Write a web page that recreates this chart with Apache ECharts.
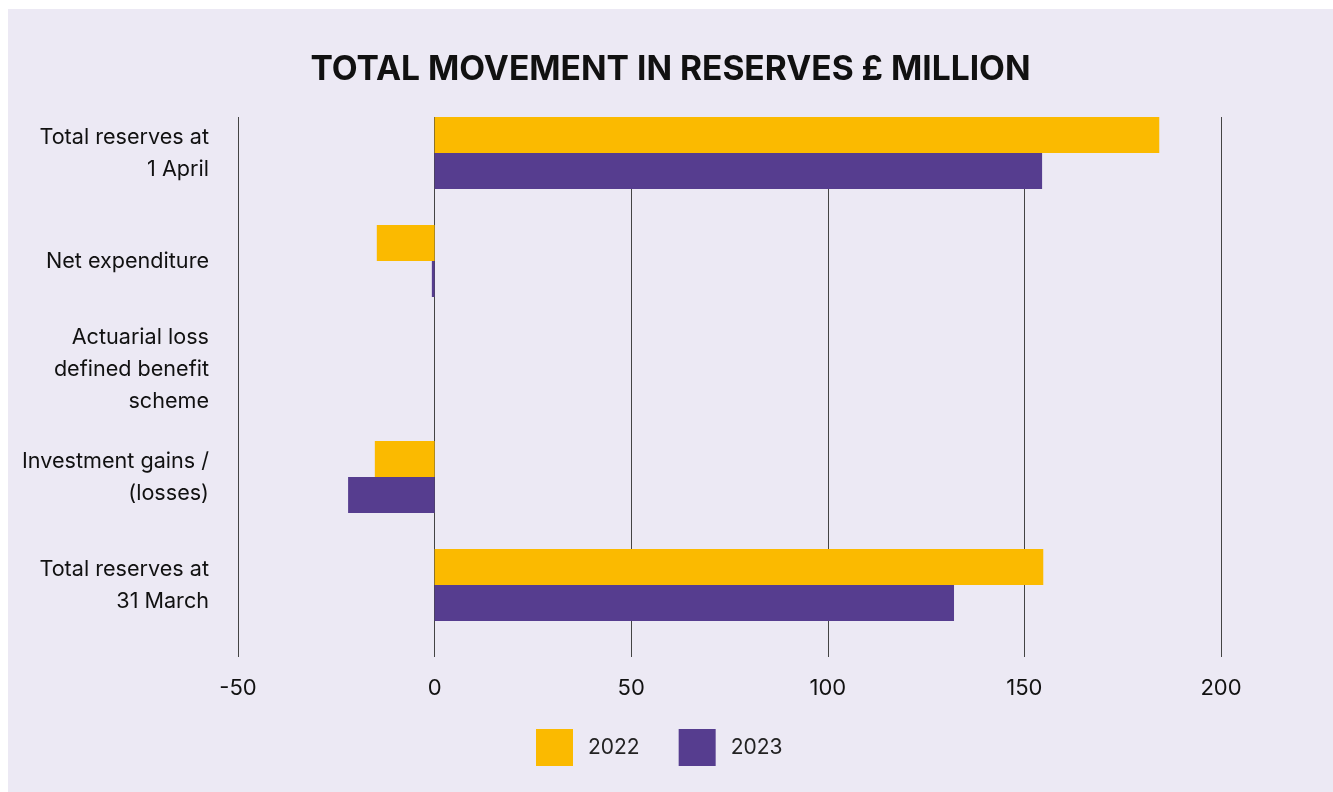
<!DOCTYPE html>
<html>
<head>
<meta charset="utf-8">
<script src="https://cdn.jsdelivr.net/npm/echarts@6/dist/echarts.min.js"></script>
<style>
  html, body { margin: 0; padding: 0; background: #ffffff; }
  #chart { position: absolute; left: 8px; top: 9px; width: 1325px; height: 783px; background: #ECE9F4; }
</style>
</head>
<body>
<div id="chart"></div>
<script>
const categories = [
  'Total reserves at\n1 April',
  'Net expenditure',
  'Actuarial loss\ndefined benefit\nscheme',
  'Investment gains /\n(losses)',
  'Total reserves at\n31 March'
];
const values2022 = [184.3, -14.7, 0, -15.2, 154.8];
const values2023 = [154.5, -0.7, 0, -22.0, 132.1];
const xTicks = { min: -50, max: 200, interval: 50 };
const seriesNames = ['2022', '2023'];

const FONT = 'Inter, Roboto, "Noto Sans", sans-serif';
const chart = echarts.init(document.getElementById('chart'));
chart.setOption({
  backgroundColor: '#ECE9F4',
  animation: false,
  textStyle: { fontFamily: FONT },
  title: {
    text: 'TOTAL MOVEMENT IN RESERVES £ MILLION',
    left: 'center',
    top: 39,
    textStyle: { fontFamily: FONT, fontSize: 33.6, fontWeight: 'bold', color: '#111111' }
  },
  legend: {
    data: seriesNames,
    left: 523,
    top: 715,
    itemWidth: 37,
    itemHeight: 37,
    itemGap: 39,
    icon: 'rect',
    textStyle: { fontFamily: FONT, fontSize: 21, color: '#222222', padding: [0, 0, 0, 10] }
  },
  grid: [
    { left: 230, right: 112, top: 90, height: 540, containLabel: false },
    { left: 230, right: 112, top: 108, height: 540, containLabel: false }
  ],
  xAxis: [
    {
      gridIndex: 0, type: 'value',
      min: xTicks.min, max: xTicks.max, interval: xTicks.interval,
      axisLine: { show: false }, axisTick: { show: false },
      axisLabel: { show: false }, splitLine: { show: false }
    },
    {
      gridIndex: 1, type: 'value',
      min: xTicks.min, max: xTicks.max, interval: xTicks.interval,
      axisLine: { show: false }, axisTick: { show: false },
      axisLabel: { fontFamily: FONT, fontSize: 22, color: '#111111', margin: 20 },
      splitLine: { show: true, lineStyle: { color: '#444444', width: 1 } }
    }
  ],
  yAxis: [
    {
      gridIndex: 0, type: 'category', data: categories, inverse: true,
      axisLine: { show: false }, axisTick: { show: false }, splitLine: { show: false },
      axisLabel: {
        fontFamily: FONT, fontSize: 21.6, color: '#111111', lineHeight: 32,
        align: 'right', margin: 29
      }
    },
    {
      gridIndex: 1, type: 'category', data: categories, inverse: true,
      axisLine: { show: false }, axisTick: { show: false }, splitLine: { show: false },
      axisLabel: { show: false }
    }
  ],
  series: [
    { name: '2022', type: 'bar', xAxisIndex: 0, yAxisIndex: 0, data: values2022, barWidth: 36, barGap: '0%', itemStyle: { color: '#FBBA00' } },
    { name: '2023', type: 'bar', xAxisIndex: 0, yAxisIndex: 0, data: values2023, barWidth: 36, barGap: '0%', itemStyle: { color: '#563D8F' } }
  ]
});
</script>
</body>
</html>
